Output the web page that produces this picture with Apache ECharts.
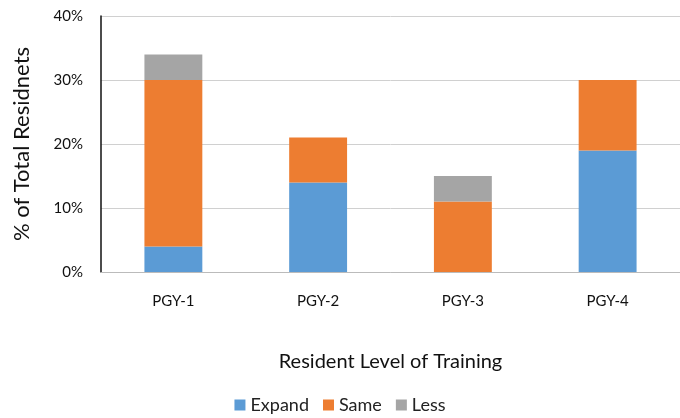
<!DOCTYPE html>
<html><head><meta charset="utf-8">
<script src="https://cdn.jsdelivr.net/npm/echarts@6/dist/echarts.min.js"></script>
<style>html,body{margin:0;padding:0;background:#fff}#c{width:680px;height:418px}</style>
</head><body><div id="c"></div>
<script>
const categories = ['PGY-1','PGY-2','PGY-3','PGY-4'];
const expand = [4, 14, 0, 19];
const same = [26, 7, 11, 11];
const less = [4, 0, 4, 0];
const yTicks = [0, 10, 20, 30, 40];

const chart = echarts.init(document.getElementById('c'));
const font = 'Lato, "Open Sans", sans-serif';
function mk(name, data, color){
  return {name, type:'bar', stack:'t', data, barWidth:'40%', itemStyle:{color}};
}
chart.setOption({
  animation:false,
  textStyle:{fontFamily:font},
  grid:{left:101, top:16, width:582, bottom:146},
  legend:{bottom:-1, left:'center', itemWidth:11, itemHeight:11, itemGap:14,
    textStyle:{fontSize:18, color:'#222', fontFamily:font},
    data:['Expand','Same','Less'], icon:'rect'},
  xAxis:{type:'category', data:categories,
    name:'Resident Level of Training', nameLocation:'middle', nameGap:80,
    nameTextStyle:{fontSize:20, color:'#111', fontFamily:font},
    axisLine:{lineStyle:{color:'#bbb'}}, axisTick:{show:false},
    axisLabel:{fontSize:15, color:'#111', margin:22, fontFamily:font}},
  yAxis:{type:'value', min:yTicks[0], max:yTicks[yTicks.length-1], interval:10,
    name:'% of Total Residnets', nameLocation:'middle', nameGap:68, nameRotate:90,
    nameTextStyle:{fontSize:22, color:'#111', fontFamily:font},
    axisLine:{show:true, lineStyle:{color:'#111', width:1.5}},
    axisLabel:{formatter:'{value}%', fontSize:15, color:'#111', margin:18, fontFamily:font},
    splitLine:{lineStyle:{color:'#d0d0d0'}}},
  series:[mk('Expand',expand,'#5B9BD5'), mk('Same',same,'#ED7D31'), mk('Less',less,'#A5A5A5')]
});
</script></body></html>
